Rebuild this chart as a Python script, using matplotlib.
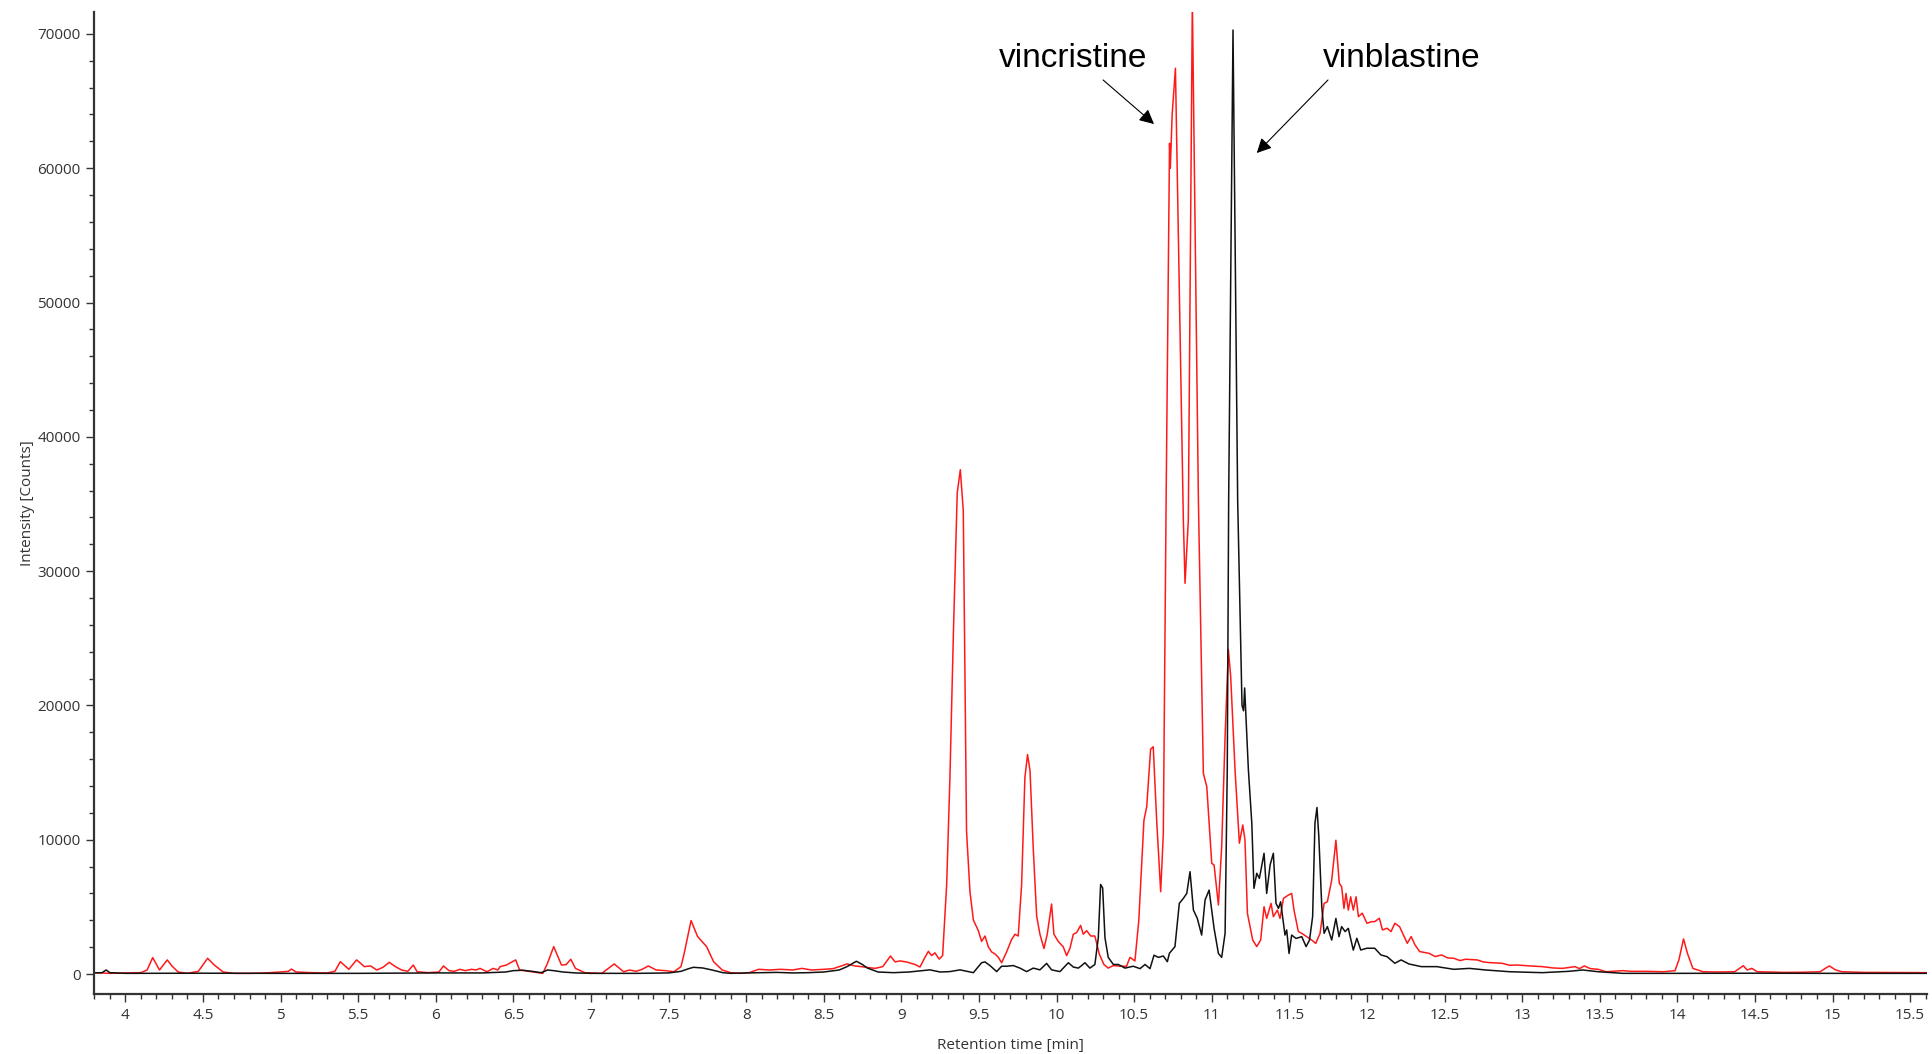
import numpy as np
import matplotlib
matplotlib.use("Agg")
import matplotlib.pyplot as plt
from matplotlib.ticker import MultipleLocator, FormatStrFormatter

# red trace (retention time in min, intensity in counts)
rt_red = [3.80, 3.90, 4.00, 4.10, 4.14, 4.176, 4.22, 4.27, 4.30, 4.34, 4.40, 4.47, 4.53, 4.57,
          4.63, 4.70, 4.80, 4.90, 5.00, 5.05, 5.07, 5.10, 5.20, 5.30, 5.35, 5.385, 5.44, 5.49,
          5.54, 5.58, 5.62, 5.66, 5.70, 5.74, 5.78, 5.82, 5.855, 5.88, 5.95, 6.02, 6.05, 6.085,
          6.12, 6.155, 6.19, 6.23, 6.26, 6.285, 6.33, 6.37, 6.40, 6.415, 6.455, 6.515, 6.54,
          6.62, 6.69, 6.72, 6.76, 6.81, 6.84, 6.87, 6.90, 6.96, 7.07, 7.11, 7.15, 7.21, 7.25,
          7.29, 7.33, 7.37, 7.42, 7.48, 7.535, 7.58, 7.60, 7.645, 7.687, 7.745, 7.79, 7.846,
          7.90, 7.96, 8.02, 8.08, 8.15, 8.22, 8.30, 8.36, 8.42, 8.50, 8.56, 8.60, 8.65, 8.70,
          8.74, 8.83, 8.88, 8.93, 8.96, 8.991, 9.034, 9.088, 9.12, 9.152, 9.174, 9.195, 9.216,
          9.244, 9.266, 9.292, 9.313, 9.335, 9.36, 9.38, 9.399, 9.42, 9.442, 9.464, 9.496,
          9.517, 9.539, 9.56, 9.582, 9.603, 9.625, 9.646, 9.678, 9.71, 9.732, 9.753, 9.775,
          9.796, 9.813, 9.829, 9.85, 9.872, 9.893, 9.919, 9.94, 9.968, 9.983, 10.011, 10.043,
          10.065, 10.086, 10.108, 10.13, 10.155, 10.172, 10.194, 10.22, 10.247, 10.275, 10.305,
          10.333, 10.366, 10.408, 10.451, 10.473, 10.505, 10.53, 10.563, 10.581, 10.606, 10.623,
          10.645, 10.671, 10.688, 10.706, 10.728, 10.733, 10.745, 10.766, 10.817, 10.828,
          10.849, 10.875, 10.914, 10.946, 10.968, 11.0, 11.015, 11.043, 11.064, 11.086, 11.107,
          11.122, 11.15, 11.178, 11.2, 11.214, 11.23, 11.264, 11.29, 11.315, 11.337, 11.354,
          11.382, 11.397, 11.423, 11.44, 11.462, 11.494, 11.515, 11.53, 11.558, 11.58, 11.612,
          11.644, 11.67, 11.698, 11.724, 11.745, 11.773, 11.80, 11.822, 11.837, 11.852, 11.865,
          11.88, 11.895, 11.912, 11.93, 11.945, 11.97, 12.0, 12.03, 12.05, 12.08, 12.10, 12.13,
          12.155, 12.18, 12.21, 12.23, 12.26, 12.285, 12.31, 12.34, 12.40, 12.44, 12.48, 12.52,
          12.56, 12.60, 12.635, 12.71, 12.75, 12.79, 12.87, 12.92, 12.97, 13.05, 13.13, 13.20,
          13.26, 13.34, 13.37, 13.40, 13.44, 13.49, 13.54, 13.65, 13.70, 13.80, 13.91, 13.985,
          14.01, 14.04, 14.065, 14.10, 14.165, 14.25, 14.37, 14.425, 14.45, 14.48, 14.515,
          14.60, 14.68, 14.80, 14.92, 14.96, 14.98, 15.02, 15.06, 15.20, 15.40, 15.61]
int_red = [100, 50, 80, 100, 300, 1220, 300, 1050, 600, 150, 50, 200, 1170, 700,
           150, 50, 50, 80, 150, 200, 370, 150, 100, 80, 200, 920, 350, 1050,
           550, 600, 300, 500, 870, 550, 300, 200, 670, 170, 100, 150, 600, 250,
           200, 350, 250, 350, 300, 420, 170, 420, 300, 550, 670, 1050, 300,
           170, 50, 800, 2040, 670, 700, 1100, 420, 100, 50, 400, 750, 170, 300,
           200, 350, 600, 300, 250, 170, 550, 1500, 3980, 2790, 2040, 920, 300,
           100, 50, 100, 350, 300, 350, 300, 420, 300, 350, 400, 550, 750, 600,
           550, 420, 550, 1340, 900, 975, 895, 710, 520, 1240, 1690, 1370, 1580,
           1110, 1370, 6670, 14620, 25220, 35820, 37550, 34500, 10650, 6140, 4020, 3230,
           2430, 2830, 2030, 1640, 1500, 1240, 840, 1640, 2560, 2960, 2830, 6670,
           14620, 16340, 15150, 9320, 4290, 2960, 1900, 2960, 5210, 2960, 2430, 2030,
           1370, 1900, 2960, 3090, 3620, 2960, 3230, 2830, 2830, 1500, 710,
           440, 630, 580, 580, 1240, 975, 4000, 11440, 12460, 16740, 16920,
           11470, 6130, 10470, 35290, 61850, 59990, 64000, 67440, 33800, 29090,
           33800, 72500, 35290, 14940, 13950, 8240, 8120, 5140, 9480, 17690, 24160,
           22170, 15220, 9740, 11100, 9990, 4510, 2530, 2040, 2530, 5010, 4140,
           5260, 4270, 4760, 4140, 5630, 5880, 6000, 4760, 3160, 3030, 2780,
           2530, 2280, 3030, 5260, 5380, 7000, 9960, 6750, 6500, 4880, 6000,
           4760, 5750, 4760, 5750, 4270, 4530, 3780, 3900, 3900, 4150, 3280, 3410,
           3160, 3780, 3530, 3030, 2290, 2790, 2160, 1670, 1540, 1300, 1420, 1200,
           1170, 1000, 1100, 1050, 900, 850, 800, 650, 670, 600, 550, 450,
           420, 550, 400, 600, 400, 350, 170, 250, 200, 200, 170, 250,
           1050, 2610, 1540, 420, 170, 150, 170, 620, 300, 420, 170,
           150, 120, 130, 170, 470, 600, 300, 170, 120, 110, 100]

# black trace
rt_black = [3.80, 3.85, 3.876, 3.90, 4.0, 4.5, 5.0, 5.5, 6.0, 6.3, 6.45, 6.5, 6.56, 6.62, 6.68,
            6.72, 6.76, 6.82, 6.9, 7.0, 7.3, 7.5, 7.58, 7.63, 7.66, 7.72, 7.78, 7.85, 7.9, 8.0,
            8.1, 8.2, 8.3, 8.4, 8.5, 8.6, 8.65, 8.71, 8.75, 8.78, 8.85, 8.95, 9.05, 9.184, 9.25,
            9.313, 9.378, 9.464, 9.517, 9.539, 9.571, 9.614, 9.646, 9.678, 9.721, 9.764, 9.807,
            9.85, 9.893, 9.936, 9.968, 10.022, 10.076, 10.108, 10.14, 10.162, 10.183, 10.215,
            10.247, 10.269, 10.284, 10.297, 10.312, 10.333, 10.366, 10.398, 10.441, 10.494,
            10.538, 10.57, 10.602, 10.628, 10.656, 10.688, 10.714, 10.727, 10.763, 10.791,
            10.817, 10.839, 10.86, 10.882, 10.907, 10.935, 10.957, 10.983, 11.015, 11.043,
            11.064, 11.086, 11.1, 11.109, 11.137, 11.167, 11.195, 11.205, 11.212, 11.236, 11.258,
            11.272, 11.29, 11.307, 11.337, 11.354, 11.376, 11.397, 11.414, 11.43, 11.444, 11.472,
            11.483, 11.498, 11.515, 11.543, 11.58, 11.608, 11.63, 11.65, 11.665, 11.678, 11.69,
            11.709, 11.724, 11.745, 11.773, 11.80, 11.82, 11.837, 11.859, 11.88, 11.912, 11.935,
            11.96, 12.0, 12.05, 12.09, 12.13, 12.18, 12.22, 12.27, 12.35, 12.45, 12.56, 12.66,
            12.765, 12.92, 13.13, 13.3, 13.39, 13.49, 13.65, 14.0, 14.5, 15.0, 15.61]
int_black = [80, 100, 300, 100, 50, 60, 50, 50, 80, 80, 150, 250, 280, 200, 100,
             300, 250, 150, 80, 50, 50, 80, 200, 400, 500, 450, 300, 100, 50, 80,
             100, 120, 80, 100, 150, 300, 550, 950, 700, 450, 150, 100, 150, 310, 150,
             180, 310, 100, 840, 900, 630, 180, 580, 580, 630, 440, 180,
             440, 310, 790, 310, 180, 840, 520, 440, 630, 840, 440,
             710, 2700, 6670, 6410, 2700, 1240, 710, 710, 440, 580,
             400, 710, 400, 1400, 1240, 1340, 920, 1540, 2040, 5260,
             5630, 6000, 7620, 4760, 4140, 2900, 5510, 6250, 3400, 1530,
             1240, 3030, 15220, 35290, 70290, 35290, 20000, 19600, 21300, 15220, 11250,
             6380, 7500, 7120, 8990, 6000, 8120, 8990, 5260, 4890, 5380, 2900,
             3280, 1530, 2900, 2650, 2780, 2040, 2530, 4270, 11220, 12400, 10220,
             5010, 3030, 3530, 2530, 4140, 2780, 3530, 3160, 3400, 1780, 2660,
             1790, 1920, 1920, 1420, 1290, 800, 1050, 750, 550, 550, 350, 420,
             300, 170, 100, 200, 300, 170, 50, 50, 60, 50, 50]

x_ticks = np.arange(4, 15.51, 0.5)
y_ticks = np.arange(0, 70001, 10000)

fig = plt.figure(figsize=(19.33, 10.54), dpi=100)
ax = fig.add_axes([0.0488, 0.0569, 0.9482, 0.9317])

ax.plot(rt_red, int_red, color="#ff1a1a", lw=1.1)
ax.plot(rt_black, int_black, color="#111111", lw=1.1)

ax.set_xlim(3.8, 15.61)
ax.set_ylim(-1490, 71630)

ax.set_xticks(x_ticks)
ax.set_yticks(y_ticks)
ax.xaxis.set_major_formatter(FormatStrFormatter("%g"))
ax.yaxis.set_major_formatter(FormatStrFormatter("%d"))
ax.xaxis.set_minor_locator(MultipleLocator(0.1))
ax.yaxis.set_minor_locator(MultipleLocator(2000))

for side in ["top", "right"]:
    ax.spines[side].set_visible(False)
for side in ["left", "bottom"]:
    ax.spines[side].set_color("#333333")
    ax.spines[side].set_linewidth(1.6)

tick_font = {"family": "Open Sans", "size": 11}
ax.tick_params(which="major", length=6, width=1, color="#333333", labelcolor="#333333", pad=4)
ax.tick_params(which="minor", length=3.5, width=1, color="#333333")
for lab in ax.get_xticklabels() + ax.get_yticklabels():
    lab.set_fontfamily("Open Sans")
    lab.set_fontsize(11)

ax.set_xlabel("Retention time [min]", fontdict=tick_font, color="#333333")
ax.set_ylabel("Intensity [Counts]", fontdict=tick_font, color="#333333")
ax.xaxis.set_label_coords(0.5, -0.045)
ax.yaxis.set_label_coords(-0.0325, 0.5)

# peak labels with arrows
ann_font = {"family": "Liberation Sans", "size": 24}
ax.annotate("", xy=(10.628, 63290), xytext=(10.30, 66570),
            arrowprops=dict(arrowstyle="-|>", color="black", lw=0.8, mutation_scale=22,
                            shrinkA=0, shrinkB=0))
ax.annotate("", xy=(11.29, 61130), xytext=(11.749, 66570),
            arrowprops=dict(arrowstyle="-|>", color="black", lw=0.8, mutation_scale=22,
                            shrinkA=0, shrinkB=0))
ax.text(10.104, 68150, "vincristine", fontdict=ann_font, ha="center", va="center")
ax.text(12.224, 68150, "vinblastine", fontdict=ann_font, ha="center", va="center")

fig.savefig("out.png", dpi=100)
